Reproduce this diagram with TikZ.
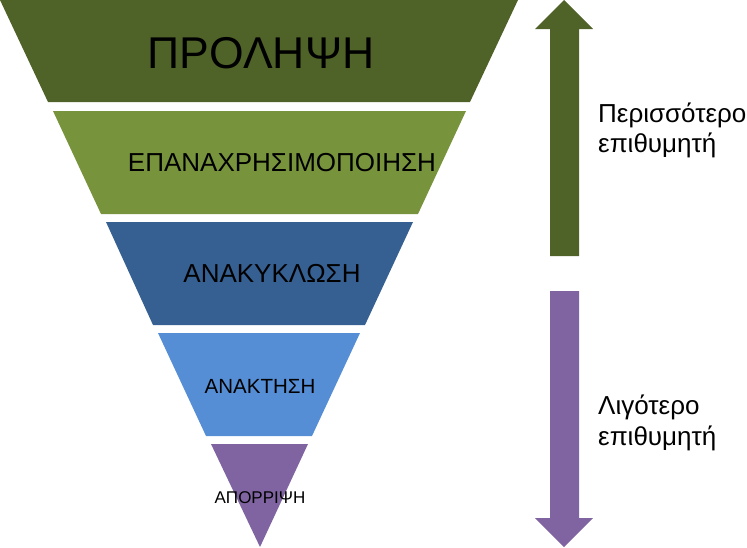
\documentclass[tikz,border=0pt]{standalone}
\usepackage{fontspec}
\setmainfont{Liberation Sans}
\definecolor{bandA}{HTML}{4F6228}
\definecolor{bandB}{HTML}{77933C}
\definecolor{bandC}{HTML}{366092}
\definecolor{bandD}{HTML}{558ED5}
\definecolor{bandE}{HTML}{8064A2}
\tikzset{
  band/.style={fill=#1, draw=none},
  lbl/.style={inner sep=0pt, anchor=base, text=black},
  side/.style={inner sep=0pt, anchor=base west, align=left, text=black,
    font=\fontsize{26}{30.5}\selectfont},
}
\begin{document}
\begin{tikzpicture}[x=1pt,y=-1pt]
\useasboundingbox (0,0) rectangle (747,547);
% bands
\fill[band=bandA] (0,0) -- (518,0) -- (470,102) -- (48,102) -- cycle;
\fill[band=bandB] (53,111) -- (466,111) -- (418,214) -- (101,214) -- cycle;
\fill[band=bandC] (106,222) -- (413,222) -- (365,325) -- (153,325) -- cycle;
\fill[band=bandD] (158,333) -- (360,333) -- (312,436) -- (206,436) -- cycle;
\fill[band=bandE] (211,444) -- (308,444) -- (260,547) -- cycle;
% labels
\node[lbl, font=\fontsize{44.5}{50}\selectfont] (t1) at (261,68) {ΠΡΟΛΗΨΗ};
\node[lbl, font=\fontsize{26}{30}\selectfont] (t2) at (282,171) {ΕΠΑΝΑΧΡΗΣΙΜΟΠΟΙΗΣΗ};
\node[lbl, font=\fontsize{26}{30}\selectfont] (t3) at (272,282) {ΑΝΑΚΥΚΛΩΣΗ};
\node[lbl, font=\fontsize{20.5}{24}\selectfont] (t4) at (260,393) {ΑΝΑΚΤΗΣΗ};
\node[lbl, font=\fontsize{17}{20}\selectfont] (t5) at (260,503) {ΑΠΟΡΡΙΨΗ};
% arrows
\fill[bandA] (564,0) -- (593,29) -- (579,29) -- (579,256) -- (550,256) -- (550,29) -- (535,29) -- cycle;
\fill[bandE] (550,291) -- (579,291) -- (579,518) -- (593,518) -- (564,547) -- (535,518) -- (550,518) -- cycle;
% side texts
\node[side] (up) at (598,152.5) {Περισσότερο\\επιθυμητή};
\node[side] (down) at (598,445) {Λιγότερο\\επιθυμητή};
\end{tikzpicture}
\end{document}
